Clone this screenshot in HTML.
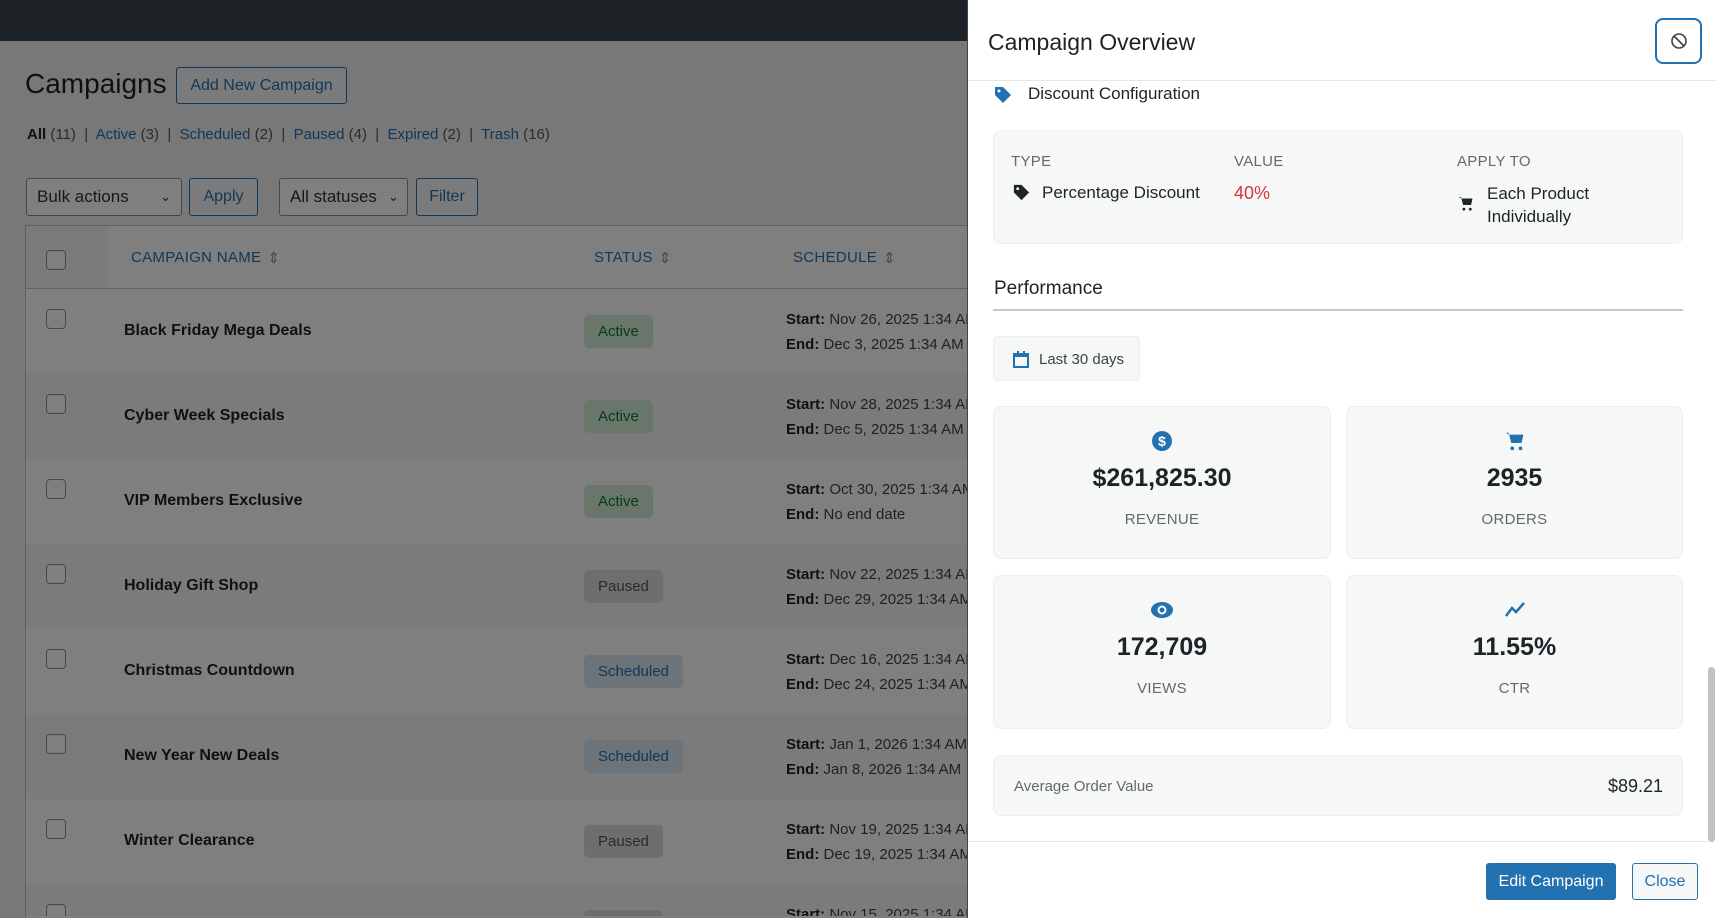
<!DOCTYPE html>
<html><head><meta charset="utf-8"><style>
*{box-sizing:border-box;margin:0;padding:0}
html,body{width:1716px;height:918px;overflow:hidden}
body{font-family:"Liberation Sans",sans-serif;color:#1d2327}
#wrap{position:relative;width:1716px;height:918px;overflow:hidden;background:#f0f0f1}
.abs{position:absolute}
.top{left:0;top:0;width:1716px;height:41px;background:#1d2327}
a{color:#2271b1;text-decoration:none}
.btn{position:absolute;border:1px solid #2271b1;color:#2271b1;border-radius:3px;background:#f6f7f7;font-size:16px;display:flex;align-items:center;justify-content:center}
.sel{position:absolute;border:1px solid #8c8f94;border-radius:3px;background:#fff;font-size:17px;color:#2c3338;display:flex;align-items:center;padding-left:10px}
.table{left:25px;top:225px;width:942px;height:693px;background:#fff;border:1px solid #c3c4c7;border-right:none;border-bottom:none;overflow:hidden}
.row{position:absolute;left:0;width:942px;height:85px;overflow:hidden}
.cb{position:absolute;left:20px;width:20px;height:20px;border:1.5px solid #8c8f94;border-radius:4px;background:#fff}
.name{position:absolute;left:98px;font-size:16px;font-weight:bold;color:#1d2327}
.badge{position:absolute;left:558px;height:33px;border-radius:5px;font-size:15px;display:flex;align-items:center;padding:0 14px}
.act{background:#d4ecd9;color:#0a7a2a}.pau{background:#dcdcde;color:#50575e}.sch{background:#d8e6f3;color:#2271b1}
.sched{position:absolute;left:760px;font-size:15px;color:#3c434a;line-height:25px;white-space:nowrap}
.sched b{color:#1d2327}
.th{position:absolute;top:0;height:63px;display:flex;align-items:center;font-size:15px;color:#2271b1;letter-spacing:.3px}
.ov{left:0;top:41px;width:967px;height:877px;background:rgba(0,0,0,0.5)}
.panel{left:967px;top:0;width:749px;height:918px;background:#fff;border-left:1px solid #444;overflow:hidden}
.card{position:absolute;background:#f6f7f7;border:1px solid #eceeef;border-radius:8px}
.lbl{font-size:15px;color:#646970;letter-spacing:.3px}
.val{font-size:25px;font-weight:bold;color:#1d2327}
.mc{text-align:center}
</style></head><body><div id="wrap">
<div class="abs top"></div>
<div class="abs" style="left:25px;top:68px;font-size:28px;color:#1d2327">Campaigns</div>
<div class="btn" style="left:176px;top:67px;width:171px;height:37px">Add New Campaign</div>
<div class="abs" style="left:27px;top:126px;font-size:15px;color:#50575e;white-space:nowrap"><b style="color:#1d2327;font-weight:bold">All</b> (11) &nbsp;|&nbsp; <a>Active</a> (3) &nbsp;|&nbsp; <a>Scheduled</a> (2) &nbsp;|&nbsp; <a>Paused</a> (4) &nbsp;|&nbsp; <a>Expired</a> (2) &nbsp;|&nbsp; <a>Trash</a> (16)</div>
<div class="sel" style="left:26px;top:178px;width:156px;height:38px">Bulk actions<span style="position:absolute;right:10px;font-size:13px">&#8964;</span></div>
<div class="btn" style="left:189px;top:178px;width:69px;height:38px">Apply</div>
<div class="sel" style="left:279px;top:178px;width:129px;height:38px">All statuses<span style="position:absolute;right:8px;font-size:13px">&#8964;</span></div>
<div class="btn" style="left:416px;top:178px;width:62px;height:38px">Filter</div>
<div class="abs table">
 <div style="position:absolute;left:0;top:0;width:942px;height:63px;border-bottom:1px solid #c3c4c7;background:#fff"></div>
 <div style="position:absolute;left:0;top:0;width:82px;height:62px;background:#f6f7f7"></div>
 <div class="cb" style="top:24px"></div>
 <div class="th" style="left:105px">CAMPAIGN NAME <span style="color:#8c8f94;margin-left:6px">&#8661;</span></div>
 <div class="th" style="left:568px">STATUS <span style="color:#8c8f94;margin-left:6px">&#8661;</span></div>
 <div class="th" style="left:767px">SCHEDULE <span style="color:#8c8f94;margin-left:6px">&#8661;</span></div>

 <div class="row" style="top:63px;background:#fff"><div class="cb" style="top:20px"></div><div class="name" style="top:33px">Black Friday Mega Deals</div><div class="badge act" style="top:26px">Active</div><div class="sched" style="top:18px"><b>Start:</b> Nov 26, 2025 1:34 AM<br><b>End:</b> Dec 3, 2025 1:34 AM</div></div>
 <div class="row" style="top:148px;background:#f6f7f7"><div class="cb" style="top:20px"></div><div class="name" style="top:33px">Cyber Week Specials</div><div class="badge act" style="top:26px">Active</div><div class="sched" style="top:18px"><b>Start:</b> Nov 28, 2025 1:34 AM<br><b>End:</b> Dec 5, 2025 1:34 AM</div></div>
 <div class="row" style="top:233px;background:#fff"><div class="cb" style="top:20px"></div><div class="name" style="top:33px">VIP Members Exclusive</div><div class="badge act" style="top:26px">Active</div><div class="sched" style="top:18px"><b>Start:</b> Oct 30, 2025 1:34 AM<br><b>End:</b> No end date</div></div>
 <div class="row" style="top:318px;background:#f6f7f7"><div class="cb" style="top:20px"></div><div class="name" style="top:33px">Holiday Gift Shop</div><div class="badge pau" style="top:26px">Paused</div><div class="sched" style="top:18px"><b>Start:</b> Nov 22, 2025 1:34 AM<br><b>End:</b> Dec 29, 2025 1:34 AM</div></div>
 <div class="row" style="top:403px;background:#fff"><div class="cb" style="top:20px"></div><div class="name" style="top:33px">Christmas Countdown</div><div class="badge sch" style="top:26px">Scheduled</div><div class="sched" style="top:18px"><b>Start:</b> Dec 16, 2025 1:34 AM<br><b>End:</b> Dec 24, 2025 1:34 AM</div></div>
 <div class="row" style="top:488px;background:#f6f7f7"><div class="cb" style="top:20px"></div><div class="name" style="top:33px">New Year New Deals</div><div class="badge sch" style="top:26px">Scheduled</div><div class="sched" style="top:18px"><b>Start:</b> Jan 1, 2026 1:34 AM<br><b>End:</b> Jan 8, 2026 1:34 AM</div></div>
 <div class="row" style="top:573px;background:#fff"><div class="cb" style="top:20px"></div><div class="name" style="top:33px">Winter Clearance</div><div class="badge pau" style="top:26px">Paused</div><div class="sched" style="top:18px"><b>Start:</b> Nov 19, 2025 1:34 AM<br><b>End:</b> Dec 19, 2025 1:34 AM</div></div>
 <div class="row" style="top:658px;height:32px;background:#f6f7f7"><div class="cb" style="top:20px"></div><div class="badge pau" style="top:26px">Paused</div><div class="sched" style="top:18px"><b>Start:</b> Nov 15, 2025 1:34 AM</div></div>
</div>
<div class="abs ov"></div>

<div class="abs panel">
 <div style="position:absolute;left:0;top:0;width:749px;height:81px;border-bottom:1px solid #e5e7e8"></div>
 <div style="position:absolute;left:20px;top:29px;font-size:23px;color:#1d2327">Campaign Overview</div>
 <div style="position:absolute;left:687px;top:18px;width:47px;height:46px;border:2px solid #2271b1;border-radius:8px;display:flex;align-items:center;justify-content:center">
  <svg width="18" height="18" viewBox="0 0 18 18"><circle cx="9" cy="9" r="7" fill="none" stroke="#3c434a" stroke-width="1.6"/><line x1="4" y1="4" x2="14" y2="14" stroke="#3c434a" stroke-width="1.6"/></svg></div>
 <svg style="position:absolute;left:25px;top:85px" width="20" height="20" viewBox="0 0 20 20"><path d="M2 2h8l8 8-8 8-8-8z" fill="#2271b1"/><circle cx="6" cy="6" r="1.5" fill="#fff"/></svg>
 <div style="position:absolute;left:60px;top:84px;font-size:17px">Discount Configuration</div>
 <div class="card" style="left:25px;top:130px;width:690px;height:114px">
  <div class="lbl" style="position:absolute;left:17px;top:22px">TYPE</div>
  <div class="lbl" style="position:absolute;left:240px;top:22px">VALUE</div>
  <div class="lbl" style="position:absolute;left:463px;top:22px">APPLY TO</div>
  <svg style="position:absolute;left:18px;top:52px" width="19" height="19" viewBox="0 0 20 20"><path d="M2 2h8l8 8-8 8-8-8z" fill="#1d2327"/><circle cx="6" cy="6" r="1.5" fill="#f6f7f7"/></svg>
  <div style="position:absolute;left:48px;top:52px;font-size:17px">Percentage Discount</div>
  <div style="position:absolute;left:240px;top:52px;font-size:18px;color:#d63638">40%</div>
  <svg style="position:absolute;left:463px;top:64px" width="18" height="17" viewBox="0 0 24 24"><path d="M2 3h3l3 11h11l2-8H7" fill="#1d2327"/><path d="M6 5h15l-2 9H8z" fill="#1d2327"/><circle cx="9" cy="20" r="2" fill="#1d2327"/><circle cx="18" cy="20" r="2" fill="#1d2327"/></svg>
  <div style="position:absolute;left:493px;top:51px;font-size:17px;line-height:23px">Each Product<br>Individually</div>
 </div>
 <div style="position:absolute;left:26px;top:278px;font-size:19px">Performance</div>
 <div style="position:absolute;left:25px;top:309px;width:690px;height:2px;background:#c8c8c8"></div>
 <div class="card" style="left:25px;top:336px;width:147px;height:45px;border-radius:4px">
  <svg style="position:absolute;left:19px;top:14px" width="16" height="17" viewBox="0 0 16 17"><rect x="1" y="3" width="14" height="13" fill="none" stroke="#2271b1" stroke-width="2"/><rect x="1" y="3" width="14" height="3" fill="#2271b1"/><rect x="4" y="0" width="2" height="4" fill="#2271b1"/><rect x="10" y="0" width="2" height="4" fill="#2271b1"/></svg>
  <div style="position:absolute;left:45px;top:14px;font-size:15px;color:#3c434a">Last 30 days</div>
 </div>
 <div class="card mc" style="left:25px;top:406px;width:338px;height:153px">
  <svg style="margin-top:23px" width="22" height="22" viewBox="0 0 22 22"><circle cx="11" cy="11" r="10" fill="#2271b1"/><text x="11" y="16" text-anchor="middle" font-size="14" font-weight="bold" fill="#fff" font-family="Liberation Sans">$</text></svg>
  <div class="val" style="margin-top:7px">$261,825.30</div><div class="lbl" style="margin-top:18px">REVENUE</div></div>
 <div class="card mc" style="left:378px;top:406px;width:337px;height:153px">
  <svg style="margin-top:23px" width="22" height="22" viewBox="0 0 24 24"><path d="M2 3h3l3 11h11l2-8H7" fill="#2271b1"/><path d="M6 5h15l-2 9H8z" fill="#2271b1"/><circle cx="9" cy="20" r="2" fill="#2271b1"/><circle cx="18" cy="20" r="2" fill="#2271b1"/></svg>
  <div class="val" style="margin-top:7px">2935</div><div class="lbl" style="margin-top:18px">ORDERS</div></div>
 <div class="card mc" style="left:25px;top:575px;width:338px;height:154px">
  <svg style="margin-top:24px" width="24" height="20" viewBox="0 0 24 20"><ellipse cx="12" cy="10" rx="11" ry="8" fill="#2271b1"/><circle cx="12" cy="10" r="4.5" fill="#fff"/><circle cx="12" cy="10" r="2.5" fill="#2271b1"/></svg>
  <div class="val" style="margin-top:8px">172,709</div><div class="lbl" style="margin-top:18px">VIEWS</div></div>
 <div class="card mc" style="left:378px;top:575px;width:337px;height:154px">
  <svg style="margin-top:24px" width="22" height="20" viewBox="0 0 22 20"><polyline points="2,16 8,8 12,12 20,3" fill="none" stroke="#2271b1" stroke-width="2.5"/></svg>
  <div class="val" style="margin-top:8px">11.55%</div><div class="lbl" style="margin-top:18px">CTR</div></div>
 <div class="card" style="left:25px;top:755px;width:690px;height:61px">
  <div style="position:absolute;left:20px;top:22px;font-size:15px;color:#646970">Average Order Value</div>
  <div style="position:absolute;right:19px;top:20px;font-size:18px;color:#1d2327">$89.21</div>
 </div>
 <div style="position:absolute;left:0;top:841px;width:740px;height:1px;background:#e5e7e8"></div>
 <div style="position:absolute;left:518px;top:863px;width:130px;height:37px;background:#2271b1;border-radius:3px;color:#fff;font-size:16px;display:flex;align-items:center;justify-content:center">Edit Campaign</div>
 <div style="position:absolute;left:664px;top:863px;width:66px;height:37px;border:1px solid #2271b1;border-radius:3px;color:#2271b1;background:#f6f7f7;font-size:16px;display:flex;align-items:center;justify-content:center">Close</div>
 <div style="position:absolute;left:740px;top:667px;width:7px;height:175px;background:#c1c1c1;border-radius:4px"></div>
</div>
</div></body></html>
